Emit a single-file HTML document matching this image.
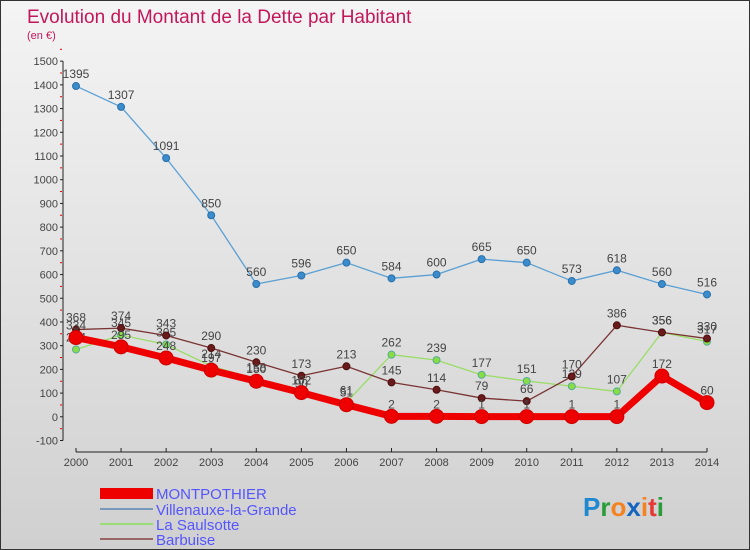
<!DOCTYPE html>
<html><head><meta charset="utf-8"><style>
body{margin:0;width:750px;height:550px;overflow:hidden;font-family:"Liberation Sans",sans-serif}
#wrap{position:relative;width:748px;height:548px;border:1px solid #333;background:linear-gradient(#f4f4f4,#d0d0d0)}
</style></head><body>
<div id="wrap">
<svg id="chart" width="748" height="548" style="position:absolute;left:0;top:0">
<text x="26" y="22" font-size="19" fill="#c2185b" font-family="Liberation Sans">Evolution du Montant de la Dette par Habitant</text>
<text x="26" y="38" font-size="11" fill="#c2185b">(en €)</text>
<g id="axes"></g><g id="series"></g>
<g>
<rect x="99" y="487" width="53" height="11" fill="#e00"/>
<text x="155" y="498" font-size="15" fill="#55f">MONTPOTHIER</text>
<line x1="99" y1="508" x2="152" y2="508" stroke="#79b" stroke-width="2"/>
<text x="155" y="514" font-size="15" fill="#55f">Villenauxe-la-Grande</text>
<line x1="99" y1="523" x2="152" y2="523" stroke="#9d7" stroke-width="2"/>
<text x="155" y="529" font-size="15" fill="#55f">La Saulsotte</text>
<line x1="99" y1="538" x2="152" y2="538" stroke="#966" stroke-width="2"/>
<text x="155" y="544" font-size="15" fill="#55f">Barbuise</text>
</g>
<text x="582" y="515" font-size="26" font-weight="bold"><tspan fill="#1e88d0">P</tspan><tspan fill="#2a9d3a">r</tspan><tspan fill="#f58220">o</tspan><tspan fill="#1565c0">x</tspan><tspan fill="#f58220">i</tspan><tspan fill="#e53935">t</tspan><tspan fill="#2a9d3a">i</tspan></text>
</svg></div>
<script>
const years=[2000,2001,2002,2003,2004,2005,2006,2007,2008,2009,2010,2011,2012,2013,2014];
const yTicks=[-100,0,100,200,300,400,500,600,700,800,900,1000,1100,1200,1300,1400,1500];
const montpothier=[334,295,248,197,150,102,51,2,2,1,1,1,1,172,60];
const villenauxe=[1395,1307,1091,850,560,596,650,584,600,665,650,573,618,560,516];
const saulsotte=[284,345,305,214,158,90,61,262,239,177,151,129,107,356,317];
const barbuise=[368,374,343,290,230,173,213,145,114,79,66,170,386,356,330];
const NS="http://www.w3.org/2000/svg";
function xs(i){return 75+i*(706-75)/(years.length-1);}
function ys(v){return 415.8-v*0.2371;}
function mk(tag,attrs,parent,txt){const e=document.createElementNS(NS,tag);for(const k in attrs)e.setAttribute(k,attrs[k]);if(txt!==undefined)e.textContent=txt;parent.appendChild(e);return e;}
const ax=document.getElementById('axes');
let l=mk('line',{x1:62,y1:ys(1500),x2:62,y2:ys(-100),stroke:'#222'},ax);


yTicks.forEach(v=>{
 const t=mk('text',{x:57,y:ys(v)+4,'font-size':11,'text-anchor':'end',fill:'#444'},ax,String(v));
 
 
 mk('line',{x1:59,y1:ys(v),x2:62,y2:ys(v),stroke:'#222'},ax);
 mk('line',{x1:59,y1:ys(v+50),x2:61,y2:ys(v+50),stroke:'#e00'},ax);
});
l=mk('line',{x1:75,y1:451,x2:706,y2:451,stroke:'#222'},ax);


years.forEach((y,i)=>{
 mk('line',{x1:xs(i),y1:447,x2:xs(i),y2:451,stroke:'#222'},ax);
 const t=mk('text',{x:xs(i),y:465,'font-size':11,'text-anchor':'middle',fill:'#444'},ax,String(y));
 
 
});
const sg=document.getElementById('series');
function draw(data,name,color,w,r,dot,stroke){
 const g=mk('g',{},sg);
 
 
 mk('polyline',{points:data.map((v,i)=>xs(i)+','+ys(v)).join(' '),fill:'none',stroke:color,'stroke-width':w,'stroke-linejoin':'round'},g);
 data.forEach((v,i)=>{
  const c=mk('circle',{cx:xs(i),cy:ys(v),r:r,fill:dot,stroke:stroke,'stroke-width':1},g);
  
  
  const t=mk('text',{x:xs(i),y:ys(v)-8,'font-size':12,'text-anchor':'middle',fill:'#444'},g,String(v));
  
  
 });
}
draw(villenauxe,'villenauxe','#5a9fd4',1.3,3.5,'#3a8ccc','#2a6fa8');
draw(saulsotte,'saulsotte','#99dd66',1.3,3.5,'#88dd44','#5a9');
draw(barbuise,'barbuise','#7a3333',1.3,3.5,'#6a1a1a','#4a1010');
draw(montpothier,'montpothier','#ee0000',7,7,'#ee0000','#cc0000');
</script>
</body></html>
